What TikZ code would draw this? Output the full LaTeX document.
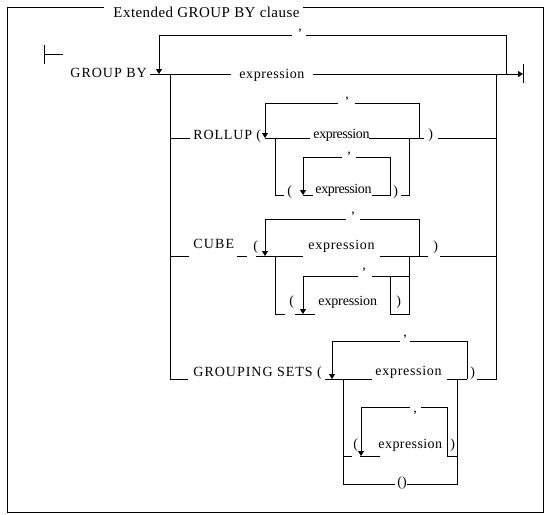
\documentclass[tikz,border=0pt]{standalone}
\usepackage{fontspec}
\setmainfont{Liberation Serif}
\usetikzlibrary{arrows.meta}
\begin{document}
\begin{tikzpicture}[x=1pt,y=-1pt, line width=0.9pt,
  tx/.style={font=\fontsize{14}{16}\selectfont\addfontfeature{LetterSpace=#1}, inner sep=0pt, anchor=base west},
  tx/.default=0,
  commanode/.style={font=\fontsize{14}{16}\selectfont, inner sep=0pt},
  ar/.style={-{Triangle[length=5pt,width=6pt]}}]
\useasboundingbox (0,0) rectangle (550,515);
% frame and title
\draw (104,7) -| (7,512) -| (543,7) -- (303,7);
\node[inner sep=0pt, anchor=base west, font=\fontsize{15}{17}\selectfont\addfontfeature{LetterSpace=3}] (title) at (113,17) {Extended GROUP BY clause};
% start
\draw (44,45) -- (44,64);
\draw (44,54) -- (63,54);
% main row
\node[tx=7] (gb) at (70,77) {GROUP BY};
\draw (150,74) -- (231,74);
\node[tx=4] (e0) at (239,78) {expression};
\draw[ar] (313,74) -- (523,74);
\draw (523,64) -- (523,83);
\draw (506,74) |- (306,35);
\draw[ar] (292,35) -| (159,74);
\node[commanode] (c0) at (300,31) {,};
% branch verticals
\draw (170,74) -- (170,379) -- (188,379);
\draw (496,74) -- (496,379) -- (477,379);
% ROLLUP
\draw (170,138) -- (190,138);
\node[tx=6] (ru) at (193,139) {ROLLUP (};
\draw (265,138) -- (310,138);
\node[tx=-3] (e1) at (313,138) {expression};
\draw (369,138) -- (424,138);
\node[tx] (rp1) at (428,138) {)};
\draw (438,138) -- (496,138);
\draw (419,138) |- (355,103);
\draw[ar] (338,103) -| (265,138);
\node[commanode] (c1) at (347,99) {,};
\draw (275,138) |- (284,195);
\node[tx] (lp2) at (287,195) {(};
\draw (303,195) -- (313,195);
\node[tx=-3] (e2) at (315,193) {expression};
\draw (372,195) -- (390,195) -- (390,157) -- (356,157);
\draw[ar] (342,157) -| (303,195);
\node[commanode] (c2) at (349,154) {,};
\node[tx] (rp2) at (393,195) {)};
\draw (401,195) -- (409,195) -- (409,138);
% CUBE
\draw (170,256) -- (189,256);
\node[tx=8] (cube) at (193,248) {CUBE};
\draw (237,256) -- (247,256);
\node[tx] (lp3) at (253,250) {(};
\draw (256,256) -- (303,256);
\node[tx=5] (e3) at (308,249) {expression};
\draw (380,256) -- (428,256);
\node[tx] (rp3) at (433,250) {)};
\draw (440,256) -- (496,256);
\draw (419,256) |- (360,219);
\draw[ar] (346,219) -| (265,256);
\node[commanode] (c3) at (353,214) {,};
\draw (275,256) |- (285,314);
\node[tx] (lp4) at (289,305) {(};
\draw (295,314) -- (315,314);
\draw[ar] (358,276) -| (303,314);
\node[commanode] (c4) at (364,270) {,};
\draw (372,276) -- (409,276);
\draw (409,256) -- (409,314) -- (390,314) -- (390,276);
\node[tx=-1] (e4) at (318,305) {expression};
\node[tx] (rp4) at (396,305) {)};
% GROUPING SETS
\node[tx=7] (gs) at (193,376) {GROUPING SETS (};
\draw (325,379) -- (372,379);
\node[tx=5] (e5) at (375,375) {expression};
\draw (447,379) -- (467,379);
\node[tx] (rp5) at (470,376) {)};
\draw (467,379) |- (410,341);
\draw[ar] (400,341) -| (332,379);
\node[commanode] (c5) at (405,337) {,};
\draw (343,379) -- (343,484) -- (395,484);
\node[tx] (ep) at (397,486) {()};
\draw (407,484) -- (457,484) -- (457,379);
\draw (343,456) -- (352,456);
\node[tx] (lp6) at (353,448) {(};
\draw (360,456) -- (380,456);
\draw[ar] (410,407) -| (361,456);
\draw (421,407) -| (447,456) -- (457,456);
\node[commanode] (c6) at (415,413) {,};
\node[tx=3] (e6) at (378,448) {expression};
\node[tx] (rp6) at (450,448) {)};
\end{tikzpicture}
\end{document}
